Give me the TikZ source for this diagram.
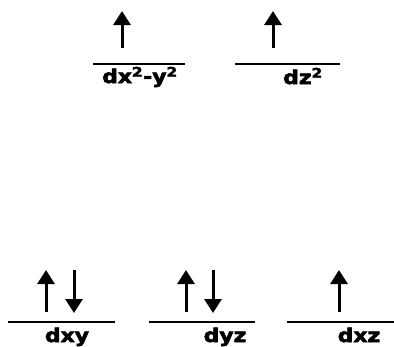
\documentclass[tikz,border=0pt]{standalone}
\usepackage{fontspec}
\setmainfont{DejaVu Sans}
\newfontfamily\orbfont{DejaVu Sans Bold}[FakeBold=3]
\usetikzlibrary{arrows.meta}
\tikzset{
  x=1pt, y=-1pt,
  level/.style={line width=2.8pt},
  spin/.style={line width=3pt, -{Triangle[width=17pt,length=14pt]}},
  orb/.style={font=\orbfont\fontsize{19}{19}\selectfont, inner sep=0pt, anchor=base, xscale=1.15},
}
\begin{document}
\begin{tikzpicture}
\useasboundingbox (0,0) rectangle (394,346);
% upper (e_g) levels
\coordinate (a1) at (93,64);  \coordinate (a2) at (185,64);
\coordinate (b1) at (235,64); \coordinate (b2) at (340,64);
\draw[level] (a1) -- (a2);
\draw[level] (b1) -- (b2);
\node[orb] (la) at (140,83) {dx\textsuperscript{2}-y\textsuperscript{2}};
\node[orb] (lb) at (303,84) {dz\textsuperscript{2}};
\coordinate (ua0) at (122,48); \coordinate (ua1) at (122,11);
\coordinate (ub0) at (273,48); \coordinate (ub1) at (273,11);
\draw[spin] (ua0) -- (ua1);
\draw[spin] (ub0) -- (ub1);
% lower (t_2g) levels
\coordinate (c1) at (8,322);   \coordinate (c2) at (115,322);
\coordinate (d1) at (149,322); \coordinate (d2) at (255,322);
\coordinate (e1) at (287,322); \coordinate (e2) at (394,322);
\draw[level] (c1) -- (c2);
\draw[level] (d1) -- (d2);
\draw[level] (e1) -- (e2);
\node[orb] (lc) at (67,342) {dxy};
\node[orb] (ld) at (225,342) {dyz};
\node[orb] (le) at (359,342) {dxz};
\coordinate (uc0) at (46,312);  \coordinate (uc1) at (46,270);
\coordinate (dc0) at (74,270);  \coordinate (dc1) at (74,313);
\coordinate (ud0) at (186,312); \coordinate (ud1) at (186,270);
\coordinate (dd0) at (213,270); \coordinate (dd1) at (213,313);
\coordinate (ue0) at (339,312); \coordinate (ue1) at (339,270);
\draw[spin] (uc0) -- (uc1);
\draw[spin] (dc0) -- (dc1);
\draw[spin] (ud0) -- (ud1);
\draw[spin] (dd0) -- (dd1);
\draw[spin] (ue0) -- (ue1);
\end{tikzpicture}
\end{document}
